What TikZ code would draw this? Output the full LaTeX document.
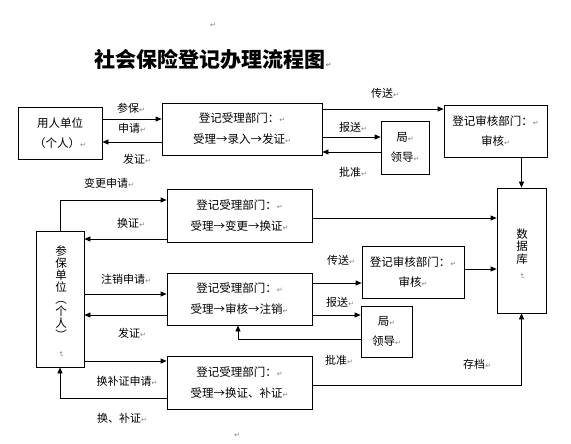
\documentclass[tikz,border=0pt]{standalone}
\usepackage{fontspec}
\usepackage{graphicx}
\setmainfont{Noto Sans CJK SC}
\newfontfamily\djv{DejaVu Sans}
\usetikzlibrary{arrows.meta}
\newcommand\pmk{{\djv\color{gray}\fontsize{7}{7}\selectfont ↵}}
\newcommand\pmkr{{\djv\color{gray}\fontsize{7}{7}\selectfont\rotatebox{-90}{↵}}}
\tikzset{
  box/.style={draw, line width=0.7pt, inner sep=0pt, align=center, font=\fontsize{11.5}{21}\selectfont},
  lbl/.style={inner sep=0pt, font=\fontsize{11}{13}\selectfont},
  arr/.style={draw, line width=0.7pt, -{Triangle[length=6pt,width=5pt]}},
}
\begin{document}
\begin{tikzpicture}[x=1pt,y=-1pt]
\useasboundingbox (0,0) rectangle (571,444);
% title
\node[inner sep=0pt, font=\fontsize{21}{24}\selectfont\bfseries] (title) at (213,59) {社会保险登记办理流程图\pmk};
\node[inner sep=0pt] (m1) at (213,25) {\pmk};
\node[inner sep=0pt] (m2) at (237,435) {\pmk};
% top row boxes
\node[box, minimum width=84pt, minimum height=52pt, font=\fontsize{11.5}{19.5}\selectfont] (u1) at (60,133) {用人单位\\（个人）\pmk};
\node[box, minimum width=160pt, minimum height=52pt] (r1) at (242,129) {登记受理部门：\pmk\\受理→录入→发证\pmk};
\node[box, minimum width=103pt, minimum height=52pt, font=\fontsize{11.5}{20}\selectfont] (s1) at (495.5,131) {登记审核部门：\pmk\\审核\pmk};
\node[box, minimum width=48pt, minimum height=53pt, font=\fontsize{11.5}{20}\selectfont] (j1) at (405,147.5) {局\pmk\\领导\pmk};
% database
\node[box, minimum width=49pt, minimum height=125pt] (db) at (521.5,250.5) {};
\node[inner sep=0pt, align=center, font=\fontsize{11.5}{12.5}\selectfont] (dbt) at (522,254) {数\\据\\库\\[-2pt]\pmkr};
% left vertical box
\node[box, minimum width=48pt, minimum height=136pt] (cb) at (60,299) {};
\node[inner sep=0pt, align=center, font=\fontsize{11.5}{12}\selectfont] (cbt) at (61,302) {参\\保\\单\\位\\︵\\个\\人\\︶\\\pmkr};
% middle boxes
\node[box, minimum width=145pt, minimum height=53pt] (rA) at (239.5,215.5) {登记受理部门：\pmk\\受理→变更→换证\pmk};
\node[box, minimum width=145pt, minimum height=52pt] (rB) at (239.5,299) {登记受理部门：\pmk\\受理→审核→注销\pmk};
\node[box, minimum width=145pt, minimum height=53pt] (rC) at (239.5,382.5) {登记受理部门：\pmk\\受理→换证、补证\pmk};
\node[box, minimum width=102pt, minimum height=52pt, font=\fontsize{11.5}{20}\selectfont] (s2) at (413,272) {登记审核部门：\pmk\\审核\pmk};
\node[box, minimum width=51pt, minimum height=51pt, font=\fontsize{11.5}{20}\selectfont] (j2) at (386.5,331.5) {局\pmk\\领导\pmk};
% top arrows
\draw[arr] (u1.east |- 0,119) -- (r1.west |- 0,119);
\draw[arr] (r1.west |- 0,142) -- (u1.east |- 0,142);
\draw[arr] (r1.east |- 0,109) -- (s1.west |- 0,109);
\draw[arr] (r1.east |- 0,137) -- (j1.west |- 0,137);
\draw[arr] (j1.west |- 0,152) -- (r1.east |- 0,152);
\draw[arr] (s1.south -| db.north) -- (db.north);
% middle arrows
\draw[arr] (cb.north) |- (rA.west |- 0,200);
\draw[arr] (rA.west |- 0,239) -- (cb.east |- 0,239);
\draw[arr] (rA.east |- 0,218) -- (db.west |- 0,218);
\draw[arr] (cb.east |- 0,294) -- (rB.west |- 0,294);
\draw[arr] (rB.west |- 0,315) -- (cb.east |- 0,315);
\draw[arr] (rB.east |- 0,283) -- (s2.west |- 0,283);
\draw[arr] (s2.east |- 0,269) -- (db.west |- 0,269);
\draw[arr] (rB.east |- 0,315) -- (j2.west |- 0,315);
\draw[arr] (j2.west |- 0,339) -| (rB.south -| 238,0);
\draw[arr] (cb.east |- 0,361) -- (rC.west |- 0,361);
\draw[arr] (rC.west |- 0,398) -| (cb.south);
\draw[arr] (rC.east |- 0,385) -| (db.south);
% labels
\node[lbl] (l1) at (131,108) {参保\pmk};
\node[lbl] (l2) at (132,128) {申请\pmk};
\node[lbl] (l3) at (137,159) {发证\pmk};
\node[lbl] (l4) at (385,93) {传送\pmk};
\node[lbl] (l5) at (353,127) {报送\pmk};
\node[lbl] (l6) at (353,172) {批准\pmk};
\node[lbl] (l7) at (109,183) {变更申请\pmk};
\node[lbl] (l8) at (131,223) {换证\pmk};
\node[lbl] (l9) at (126,279) {注销申请\pmk};
\node[lbl] (l10) at (132,333) {发证\pmk};
\node[lbl] (l11) at (341,260) {传送\pmk};
\node[lbl] (l12) at (340,302) {报送\pmk};
\node[lbl] (l13) at (339,360) {批准\pmk};
\node[lbl] (l14) at (127,381) {换补证申请\pmk};
\node[lbl] (l15) at (122,418) {换、补证\pmk};
\node[lbl] (l16) at (477,364) {存档\pmk};
\end{tikzpicture}
\end{document}
